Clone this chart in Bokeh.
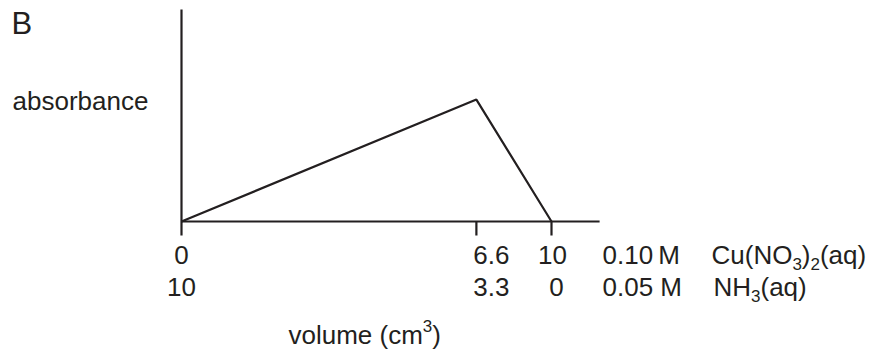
from bokeh.plotting import figure
from bokeh.models import Label, Range1d, ColumnDataSource
from bokeh.embed import file_html
from bokeh.resources import INLINE
from bokeh.core.properties import value

# ---- data (schematic job plot) ----
x_positions = [0, 7.97, 10]          # schematic positions along the volume axis
absorbance = [0, 0.575, 0]           # relative absorbance
cu_volume_labels = ["0", "6.6", "10"]    # cm3 of 0.10 M Cu(NO3)2(aq)
nh3_volume_labels = ["10", "3.3", "0"]   # cm3 of 0.05 M NH3(aq)
label_shift = [0, 15, 1]                 # px shift of row-1 labels
label_shift2 = [0, 15, 5]                # px shift of row-2 labels
axis_end = 11.3
y_axis_top = 1.0

W, H = 874, 353
MARGIN = 0
TEXT_SHIFT = -10
PX_PER_X = 37.0
X0_FIG = 181.0 - MARGIN
BASE_FIG = 221.0 - MARGIN
PX_PER_Y = 212.0
FONT = "Liberation Sans"
INK = "#231f20"

p = figure(width=W, height=H, output_backend="svg", toolbar_location=None,
           min_border=0, outline_line_color=None,
           x_range=Range1d(-X0_FIG / PX_PER_X, (W - X0_FIG) / PX_PER_X),
           y_range=Range1d(-(H - BASE_FIG) / PX_PER_Y, BASE_FIG / PX_PER_Y))
p.axis.visible = False
p.grid.visible = False
p.background_fill_color = "white"
p.border_fill_color = "white"

tick_len = 14 / PX_PER_Y

# axes
p.segment(x0=[0], y0=[-tick_len], x1=[0], y1=[y_axis_top], line_color=INK, line_width=2.2)
p.segment(x0=[0], y0=[0], x1=[axis_end], y1=[0], line_color=INK, line_width=2.2)
# ticks at the labelled volumes (except 0, which is the y-axis extension)
p.segment(x0=x_positions[1:], y0=[-tick_len] * 2, x1=x_positions[1:], y1=[0] * 2,
          line_color=INK, line_width=2.2)

# data line
p.line(x=x_positions, y=absorbance, line_color=INK, line_width=2.2)

# tick labels (two rows)
src1 = ColumnDataSource(dict(x=x_positions, y=[0] * 3, t=cu_volume_labels, dx=label_shift))
src2 = ColumnDataSource(dict(x=x_positions, y=[0] * 3, t=nh3_volume_labels, dx=label_shift2))
for src, dy in ((src1, 43), (src2, 75)):
    p.text(x="x", y="y", text="t", x_offset="dx", y_offset=dy + TEXT_SHIFT, source=src,
           text_font=value(FONT), text_font_size="26px", text_color=INK,
           text_align="center", text_baseline="alphabetic")


def lab(text, px, baseline, size=26, align="left"):
    b = baseline + TEXT_SHIFT
    p.add_layout(Label(x=px - MARGIN, y=H - (b - MARGIN), x_units="screen", y_units="screen",
                       text=text, text_font=FONT, text_font_size=f"{size}px",
                       text_color=INK, text_align=align, text_baseline="alphabetic"))


lab("B", 11, 33, 31)
lab("absorbance", 12, 110)

# concentrations
lab("0.10\u2009M", 602, 264)
lab("0.05 M", 602, 296)

ARIAL = {"C": 722, "u": 556, "(": 333, ")": 333, "N": 722, "O": 778, "H": 722,
         "a": 556, "q": 556, "2": 556, "3": 556, "v": 500, "o": 556, "l": 222,
         "m": 833, "e": 556, " ": 278, "c": 500}


def text_width(t, size):
    return sum(ARIAL.get(ch, 556) for ch in t) * size / 1000.0


def composed(parts, x, baseline):
    # parts: list of (text, kind) with kind in "n" (normal), "sub", "sup"
    for t, kind in parts:
        size = 26 if kind == "n" else 17
        shift = 0 if kind == "n" else (9 if kind == "sub" else -9)
        lab(t, x, baseline + shift, size)
        x += text_width(t, size)


composed([("Cu(NO", "n"), ("3", "sub"), (")", "n"), ("2", "sub"), ("(aq)", "n")], 711, 264)
composed([("NH", "n"), ("3", "sub"), ("(aq)", "n")], 713, 296)
composed([("volume (cm", "n"), ("3", "sup"), (")", "n")], 288, 344)

open("out.html", "w").write(file_html(p, INLINE))
